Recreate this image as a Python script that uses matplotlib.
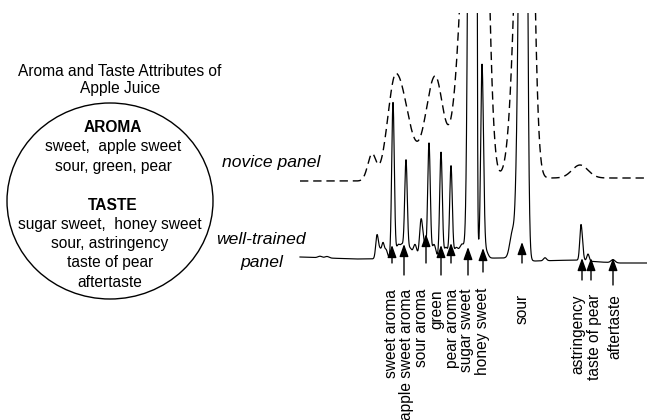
import numpy as np
import matplotlib.pyplot as plt
from matplotlib.patches import Ellipse

plt.rcParams['font.family'] = ['Liberation Sans', 'DejaVu Sans']

# -----------------------------
# TRACE DATA (pixel-space retention axis, y grows downward)
# -----------------------------

x_start, x_end = 300, 647

# well-trained panel: peak centre, height, left width, right width
trained_centres = [320, 327, 377, 380, 383, 386, 393, 398, 402, 406, 410, 415,
                   421, 424, 429, 434, 441, 446, 451, 456, 462, 471, 476,
                   478.5, 482, 486, 512, 524.5, 545, 581, 588, 613]
trained_heights = [1.5, 1.5, 23, 9, 14, 9, 156, 13, 13, 97, 10, 14,
                   36, 14, 115, 14, 106, 11, 92, 10, 14, 1000, 1000,
                   8, 193, 7, 22, 1000, 3, 36, 7, 3]
trained_wl = [2, 2, 1.3, 1.5, 1.2, 1.5, 1.3, 1.8, 1.8, 1.3, 1.8, 1.8,
              1.5, 1.8, 1.3, 1.8, 1.3, 1.8, 1.3, 2.0, 2.5, 2.2, 1.0,
              1.0, 1.3, 2.0, 2.5, 3.9, 1.5, 1.2, 1.2, 2.0]
trained_wr = [2, 2, 1.3, 1.5, 1.2, 1.5, 1.3, 1.8, 1.8, 1.3, 1.8, 1.8,
              1.5, 1.8, 1.3, 1.8, 1.3, 1.8, 1.3, 2.0, 2.5, 1.8, 0.8,
              1.0, 1.5, 2.0, 2.0, 2.1, 1.5, 1.5, 1.2, 2.0]
trained_base_x = [300, 355, 505, 535, 575, 600, 620, 647]
trained_base_y = [257, 259, 258, 261, 260, 262, 263, 263]

# novice panel: broad, poorly resolved peaks
novice_centres = [372, 396, 435, 480, 527, 580]
novice_heights = [26, 107, 102, 600, 600, 13]
novice_wl = [4.3, 8.0, 9.3, 12.9, 8.5, 8.0]
novice_wr = [3.9, 12.0, 8.0, 6.3, 5.3, 8.0]
novice_base_x = [300, 360, 540, 647]
novice_base_y = [181, 181, 178, 178]

# attribute arrows: x, arrow head y, tail y
attributes = ["sweet aroma", "apple sweet aroma", "sour aroma", "green", "pear aroma",
              "sugar sweet", "honey sweet", "sour", "astringency", "taste of pear",
              "aftertaste"]
arrow_x = [392, 404, 426, 441, 451, 468, 483, 522, 582, 591, 613]
arrow_tip = [245, 244, 234, 245, 243, 247, 248, 242, 258, 258, 258]
arrow_tail = [263, 275, 263, 275, 263, 275, 272, 263, 280, 280, 285]
label_x = [392, 406, 421, 437, 452, 467, 482, 522, 578, 595, 615]
label_top = [289, 289, 289, 289, 289, 289, 288, 294, 294, 294, 294]

aroma_attrs = ["sweet,  apple sweet", "sour, green, pear"]
taste_attrs = ["sugar sweet,  honey sweet", "sour, astringency", "taste of pear", "aftertaste"]


def build_trace(x, centres, heights, wl, wr):
    # sum of skewed gaussian peaks
    y = np.zeros_like(x)
    for c, h, a, b in zip(centres, heights, wl, wr):
        w = np.where(x < c, a, b)
        y += h * np.exp(-0.5 * ((x - c) / w) ** 2)
    return y


fig = plt.figure(figsize=(6.47, 4.20), dpi=100)
ax = fig.add_axes([0, 0, 1, 1])
ax.set_xlim(0, 647)
ax.set_ylim(420, 0)
ax.axis('off')

# traces live in their own axes so the tall peaks get cut at the top edge
top_cut = 13
ax_tr = fig.add_axes([0, 0, 1, (420 - top_cut) / 420])
ax_tr.set_xlim(0, 647)
ax_tr.set_ylim(420, top_cut)
ax_tr.axis('off')

x = np.linspace(x_start, x_end, 6000)
trained = np.interp(x, trained_base_x, trained_base_y) - build_trace(
    x, trained_centres, trained_heights, trained_wl, trained_wr)
novice = np.interp(x, novice_base_x, novice_base_y) - build_trace(
    x, novice_centres, novice_heights, novice_wl, novice_wr)

ax_tr.plot(x, trained, color='black', lw=0.85)
ax_tr.plot(x, novice, color='black', lw=1.0, dashes=(6, 3.5))

# attribute arrows and labels
for name, ax_x, tip, tail, lx, ly in zip(attributes, arrow_x, arrow_tip, arrow_tail,
                                         label_x, label_top):
    ax.annotate("", xy=(ax_x, tip), xytext=(ax_x, tail),
                arrowprops=dict(arrowstyle='-|>,head_length=0.75,head_width=0.27',
                                color='black', lw=1.0, shrinkA=0, shrinkB=0))
    ax.text(lx, ly, name, rotation=90, ha='center', va='top', fontsize=11.2)

# panel labels
ax.text(222, 163, "novice panel", style='italic', fontsize=12.6, ha='left', va='center')
ax.text(261, 240, "well-trained", style='italic', fontsize=12.6, ha='center', va='center')
ax.text(262, 262, "panel", style='italic', fontsize=12.6, ha='center', va='center')

# attribute summary circle
ax.text(120, 72, "Aroma and Taste Attributes of", fontsize=11.2, ha='center', va='center')
ax.text(120, 88, "Apple Juice", fontsize=11.2, ha='center', va='center')
ax.add_patch(Ellipse((110, 201), 206, 196, fill=False, lw=1.0, color='black'))

ax.text(113, 128, "AROMA", fontsize=11.2, fontweight='bold', ha='center', va='center')
for i, line in enumerate(aroma_attrs):
    ax.text(113, 147 + i * 20, line, fontsize=11.2, ha='center', va='center')
ax.text(113, 205, "TASTE", fontsize=11.2, fontweight='bold', ha='center', va='center')
for i, line in enumerate(taste_attrs):
    ax.text(110, 224 + i * 19.5, line, fontsize=11.2, ha='center', va='center')

fig.savefig("out.png", dpi=100)
